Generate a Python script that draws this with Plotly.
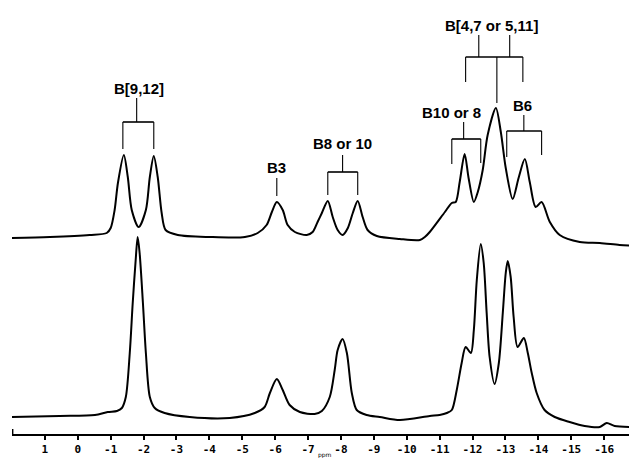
import plotly.graph_objects as go

# ---- data (chemical shift in ppm, intensity in arbitrary units) ----
top_ppm = [2.0, 0.85, -0.36, -0.88, -1.00, -1.12, -1.22, -1.40, -1.52, -1.64, -1.85, -2.07, -2.19,
           -2.31, -2.43, -2.55, -2.67, -3.04, -4.01, -5.08, -5.47, -5.74, -5.90, -6.05, -6.23, -6.38,
           -6.60, -6.96, -7.14, -7.29, -7.42, -7.60, -7.75, -7.90, -8.05, -8.21, -8.36, -8.51, -8.66,
           -8.81, -9.09, -9.79, -10.40, -10.55, -10.70, -11.16, -11.37, -11.49, -11.61, -11.76, -11.88,
           -12.04, -12.16, -12.31, -12.46, -12.71, -12.86, -13.01, -13.22, -13.40, -13.59, -13.74,
           -13.92, -14.10, -14.35, -14.65, -15.26, -15.87, -16.47, -16.99]
top_int = [196, 197, 199, 201, 206, 224, 251, 279, 257, 224, 207, 224, 257,
           278, 257, 221, 204, 199, 197, 197, 201, 209, 222, 232, 224, 209,
           202, 199, 202, 212, 221, 233, 217, 204, 199, 206, 221, 233, 217,
           204, 198, 195, 194, 197, 202, 222, 231, 232, 252, 280, 256,
           232, 242, 264, 299, 326, 302, 266, 235, 256, 275, 252,
           227, 232, 212, 199, 192, 191, 189, 188]

bot_ppm = [2.0, 0.55, -0.52, -0.91, -1.19, -1.34, -1.46, -1.58, -1.67, -1.76, -1.82, -1.88, -1.98,
           -2.07, -2.19, -2.34, -2.64, -3.40, -4.62, -5.38, -5.68, -5.84, -6.05, -6.23, -6.44, -6.75,
           -7.20, -7.42, -7.66, -7.81, -7.90, -8.05, -8.18, -8.33, -8.48, -8.78, -9.18, -9.79, -10.70,
           -11.00, -11.22, -11.37, -11.52, -11.67, -11.79, -11.95, -12.04, -12.13, -12.25, -12.34,
           -12.43, -12.52, -12.67, -12.80, -12.92, -13.01, -13.07, -13.16, -13.25, -13.37, -13.56,
           -13.68, -13.80, -13.95, -14.19, -14.50, -14.95, -15.41, -15.87, -16.08, -16.32, -16.99]
bot_int = [17, 18, 19, 22, 23, 26, 37, 81, 131, 174, 197, 181, 131,
           81, 37, 26, 21, 17, 16, 21, 27, 41, 55, 44, 29, 22,
           20, 23, 37, 64, 84, 95, 81, 41, 24, 19, 17, 14, 18,
           19, 21, 24, 44, 71, 87, 81, 104, 154, 190, 171,
           121, 77, 50, 71, 121, 161, 173, 157, 117, 87, 96,
           81, 61, 41, 24, 17, 12, 8, 7, 11, 8, 7]

tick_vals = [1, 0, -1, -2, -3, -4, -5, -6, -7, -8, -9, -10, -11, -12, -13, -14, -15, -16]
tick_text = ["1", "0", "-1", "-2", "-3", "-4", "-5", "-6", "-7", "-8", "-9", "-10", "-11", "-12",
             "-13", "-14", "-15", "-16"]

# assignment labels: text, label x (ppm), label y, stems [(x, y0, y1)], bar (x0, x1, y), legs [(x, y_end)]
labels = [
    dict(text="B[9,12]", x=-1.85, y=346, stems=[(-1.79, 336, 312)],
         bar=(-1.37, -2.31, 312), legs=[(-1.37, 285), (-2.31, 285)]),
    dict(text="B3", x=-6.05, y=267, stems=[(-6.05, 256, 238)], bar=None, legs=[]),
    dict(text="B8 or 10", x=-8.05, y=291, stems=[(-8.05, 279, 262)],
         bar=(-7.60, -8.51, 262), legs=[(-7.60, 239), (-8.51, 239)]),
    dict(text="B[4,7 or 5,11]", x=-12.58, y=409,
         stems=[(-12.19, 399, 377), (-13.13, 399, 377), (-12.74, 377, 331)],
         bar=(-11.79, -13.53, 377), legs=[(-11.79, 352), (-13.53, 352)]),
    dict(text="B10 or 8", x=-11.37, y=322, stems=[(-11.73, 312, 295)],
         bar=(-11.37, -12.25, 295), legs=[(-11.37, 270), (-12.25, 271)]),
    dict(text="B6", x=-13.53, y=329, stems=[(-13.56, 319, 303)],
         bar=(-13.04, -14.10, 303), legs=[(-13.04, 277), (-14.10, 279)]),
]

fig = go.Figure()
for xs, ys in [(top_ppm, top_int), (bot_ppm, bot_int)]:
    fig.add_trace(go.Scatter(x=xs, y=ys, mode="lines",
                             line=dict(color="black", width=2, shape="spline", smoothing=0.8),
                             hoverinfo="skip", showlegend=False))

shapes = []
annotations = []
lw = 1.1
for lab in labels:
    annotations.append(dict(x=lab["x"], y=lab["y"], xref="x", yref="y", text=lab["text"],
                            showarrow=False, xanchor="center", yanchor="middle",
                            font=dict(family="Liberation Sans", size=15, color="black", weight="bold")))
    for (sx, y0, y1) in lab["stems"]:
        shapes.append(dict(type="line", xref="x", yref="y", x0=sx, x1=sx, y0=y0, y1=y1,
                           line=dict(color="black", width=lw)))
    if lab["bar"] is not None:
        bx0, bx1, by = lab["bar"]
        shapes.append(dict(type="line", xref="x", yref="y", x0=bx0, x1=bx1, y0=by, y1=by,
                           line=dict(color="black", width=1.6)))
        for (lx, ly) in lab["legs"]:
            shapes.append(dict(type="line", xref="x", yref="y", x0=lx, x1=lx, y0=by, y1=ly,
                               line=dict(color="black", width=lw)))

# small end marks on the axis
for ex in [1.98, -16.9]:
    shapes.append(dict(type="line", xref="x", yref="paper", x0=ex, x1=ex, y0=0, y1=0.012,
                       line=dict(color="black", width=1.5)))

annotations.append(dict(x=0.5, y=-0.049, xref="paper", yref="paper", text="ppm", showarrow=False,
                        xanchor="center", yanchor="middle",
                        font=dict(family="DejaVu Sans", size=6, color="black")))

# the page body adds an 8px margin at left/top, so the figure is 8px smaller
fig.update_layout(
    width=629, height=450,
    margin=dict(l=4, r=0, t=0, b=24),
    paper_bgcolor="white", plot_bgcolor="white",
    shapes=shapes, annotations=annotations,
    xaxis=dict(range=[2, -17], showgrid=False, zeroline=False, showline=True, linecolor="black",
               linewidth=1.5, ticks="outside", ticklen=4, tickwidth=1.5, tickcolor="black",
               tickvals=tick_vals, ticktext=tick_text,
               tickfont=dict(family="DejaVu Sans Mono", size=11, color="black", weight="bold")),
    yaxis=dict(range=[0, 426], visible=False, showgrid=False, zeroline=False),
)

fig.write_html("out.html")
